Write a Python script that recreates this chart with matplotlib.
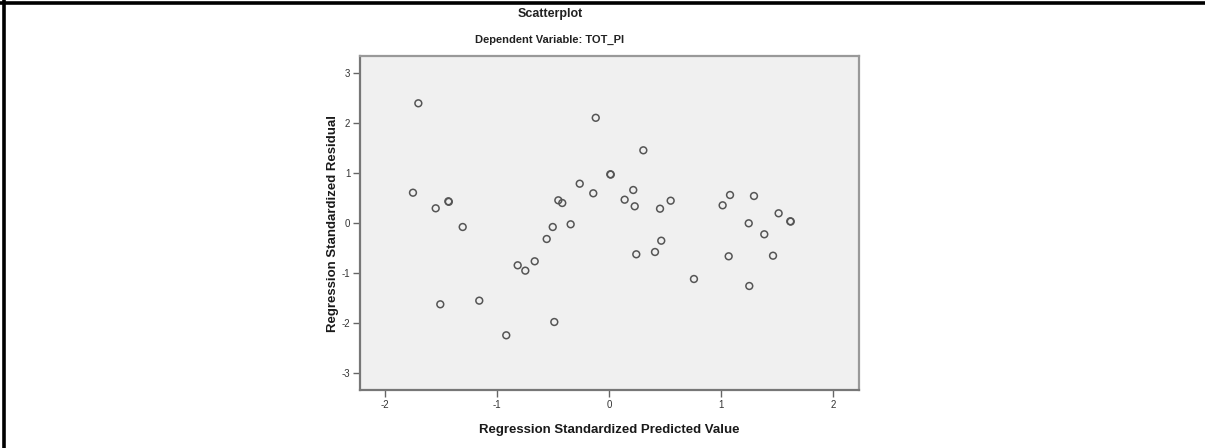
import matplotlib
matplotlib.use("Agg")
import matplotlib.pyplot as plt
from matplotlib.lines import Line2D

# Data (standardized predicted value, standardized residual)
pred = [-1.705, -1.753, -1.550, -1.437, -1.433, -1.309, -0.121, -0.264, -0.143,
        -0.455, -0.420, -0.345, -0.505, -0.559, -0.818, -0.750, -0.666, -1.509,
        -1.161, -0.920, -0.491, 0.304, 0.009, 0.013, 0.214, 0.137, 0.227, 0.548,
        0.453, 0.464, 0.408, 1.078, 1.012, 1.292, 1.512, 1.616, 1.620, 1.245,
        1.384, 0.241, 1.066, 1.462, 0.756, 1.250]
resid = [2.40, 0.612, 0.30, 0.44, 0.43, -0.074, 2.11, 0.792, 0.60,
         0.46, 0.406, -0.02, -0.074, -0.314, -0.84, -0.947, -0.76, -1.62,
         -1.547, -2.24, -1.974, 1.46, 0.98, 0.975, 0.666, 0.472, 0.34, 0.452,
         0.292, -0.348, -0.574, 0.566, 0.36, 0.546, 0.20, 0.04, 0.035, 0.0,
         -0.22, -0.62, -0.66, -0.648, -1.114, -1.254]

x_ticks = [-2, -1, 0, 1, 2]
y_ticks = [-3, -2, -1, 0, 1, 2, 3]
title1 = "Scatterplot"
title2 = "Dependent Variable: TOT_PI"
x_label = "Regression Standardized Predicted Value"
y_label = "Regression Standardized Residual"

plt.rcParams['font.family'] = ['Liberation Sans', 'DejaVu Sans']

W, H = 1205, 448
fig = plt.figure(figsize=(W / 100, H / 100), dpi=100)
fig.patch.set_facecolor('white')

# outer frame (top and left only, as in reference)
fig.add_artist(Line2D([0, 1], [1 - 3 / H, 1 - 3 / H], transform=fig.transFigure,
                      color='black', lw=2.6))
fig.add_artist(Line2D([4 / W, 4 / W], [0, 1], transform=fig.transFigure,
                      color='black', lw=2.6))

ax = fig.add_axes([360 / W, (H - 390) / H, (858.7 - 360) / W, (390 - 56) / H])
ax.set_facecolor('#f0f0f0')
ax.scatter(pred, resid, s=24, facecolors='none', edgecolors='#555555',
           linewidths=1.1, zorder=3)

ax.set_xlim(-2.226, 2.227)
ax.set_ylim(-3.334, 3.346)
ax.set_xticks(x_ticks)
ax.set_yticks(y_ticks)
ax.set_xticklabels([str(v) for v in x_ticks])
ax.set_yticklabels([str(v) for v in y_ticks])
ax.tick_params(axis='both', direction='out', length=5, width=1,
               color='#666666', labelsize=7, labelcolor='#333333', pad=2)

for side in ['left', 'bottom']:
    ax.spines[side].set_color('#777777')
    ax.spines[side].set_linewidth(1.6)
for side in ['top', 'right']:
    ax.spines[side].set_color('#999999')
    ax.spines[side].set_linewidth(1.6)

ax.set_xlabel(x_label, fontsize=9.5, fontweight='bold', color='#1a1a1a', labelpad=10)
ax.set_ylabel(y_label, fontsize=9.5, fontweight='bold', color='#1a1a1a', labelpad=2)

fig.text(550 / W, 1 - 14 / H, title1, ha='center', va='center', fontsize=9,
         fontweight='bold', color='#222222')
fig.text(550 / W, 1 - 40 / H, title2, ha='center', va='center', fontsize=8,
         fontweight='bold', color='#222222')

fig.savefig('out.png', dpi=100, facecolor='white')
